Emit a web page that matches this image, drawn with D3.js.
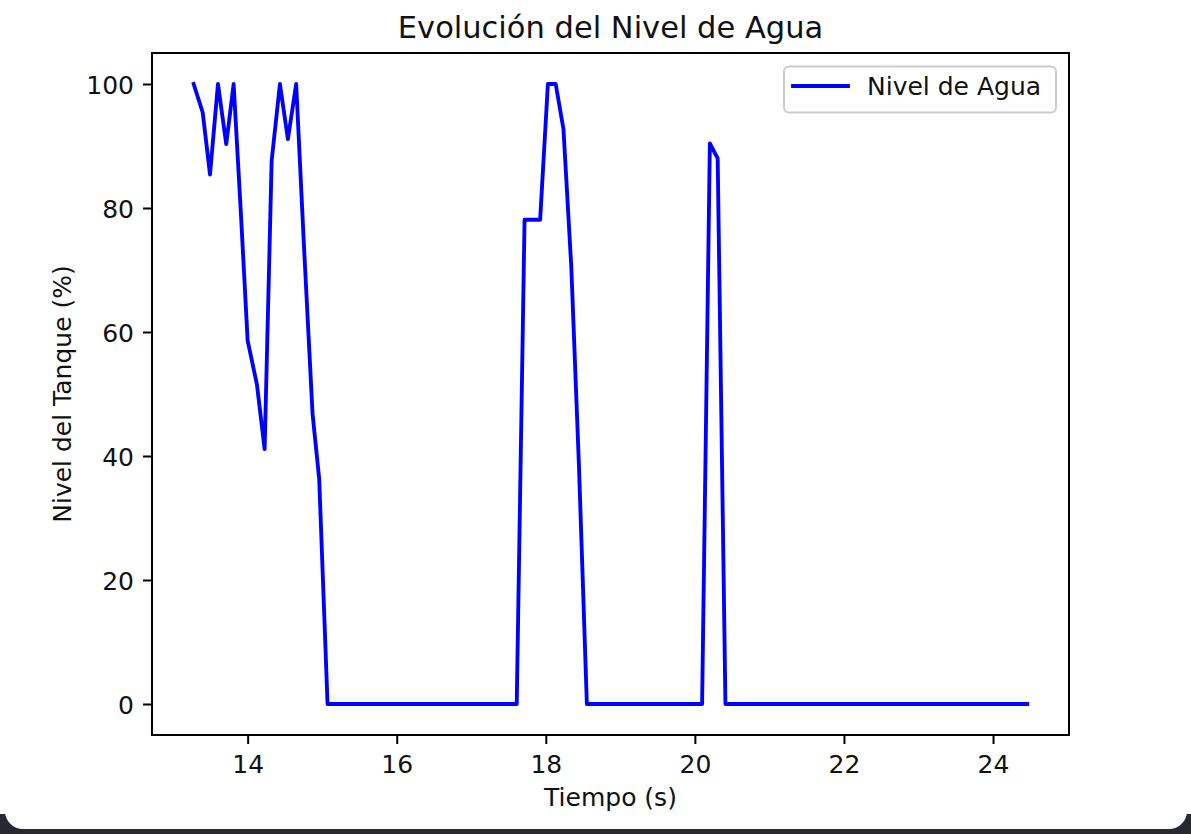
<!DOCTYPE html>
<html>
<head>
<meta charset="utf-8">
<script src="https://cdn.jsdelivr.net/npm/d3@7/dist/d3.min.js"></script>
<style>
  html, body { margin: 0; padding: 0; background: #ffffff; }
  svg { display: block; }
  text { font-family: "DejaVu Sans", sans-serif; fill: #111; }
</style>
</head>
<body>
<svg id="chart" width="1191" height="834"></svg>
<script>
// ---- data ----
const times = [
  13.276, 13.397, 13.495, 13.602, 13.713, 13.812, 13.910, 14.000, 14.125, 14.228,
  14.322, 14.433, 14.540, 14.651, 14.755, 14.871, 14.960, 15.072,
  17.610, 17.715, 17.819, 17.924, 18.028, 18.133, 18.237, 18.342, 18.446, 18.551,
  20.097, 20.201, 20.306, 20.410,
  24.460
];
const levels = [
  100, 95.4, 85.4, 100, 90.3, 100, 79, 58.6, 51.5, 41.1,
  87.6, 100, 91.1, 100, 74, 46.8, 36.3, 0,
  0, 78.1, 78.1, 78.1, 100, 100, 92.7, 70.5, 38, 0,
  0, 90.4, 88, 0,
  0
];
const xTicks = [14, 16, 18, 20, 22, 24];
const yTicks = [0, 20, 40, 60, 80, 100];
const titleText = "Evolución del Nivel de Agua";
const xLabel = "Tiempo (s)";
const yLabel = "Nivel del Tanque (%)";
const seriesName = "Nivel de Agua";

// ---- layout ----
const svg = d3.select("#chart");
const W = 1191, H = 834;
const axL = 152, axR = 1069, axT = 53, axB = 735;
const tickFont = 25, titleFont = 30.5;

// window frame (dark strip with rounded card corners at the bottom)
svg.append("rect").attr("x", 0).attr("y", 814).attr("width", W).attr("height", H - 814).attr("fill", "#262a30");
svg.append("rect").attr("x", 5).attr("y", -40).attr("width", 1182).attr("height", 869)
  .attr("rx", 18).attr("ry", 18).attr("fill", "#ffffff");

const data = times.map((t, i) => ({ t, v: levels[i] }));
const tExt = d3.extent(times), vExt = d3.extent(levels);
const tPad = (tExt[1] - tExt[0]) * 0.05, vPad = (vExt[1] - vExt[0]) * 0.05;

const x = d3.scaleLinear().domain([tExt[0] - tPad, tExt[1] + tPad]).range([axL, axR]);
const y = d3.scaleLinear().domain([vExt[0] - vPad, vExt[1] + vPad]).range([axB, axT]);

// clip
svg.append("defs").append("clipPath").attr("id", "clip")
  .append("rect").attr("x", axL).attr("y", axT).attr("width", axR - axL).attr("height", axB - axT);

// line
const line = d3.line().x(d => x(d.t)).y(d => y(d.v));
svg.append("path").datum(data)
  .attr("clip-path", "url(#clip)")
  .attr("d", line)
  .attr("fill", "none")
  .attr("stroke", "#0000ff")
  .attr("stroke-width", 3.85)
  .attr("stroke-linejoin", "round")
  .attr("stroke-linecap", "square");

// axes
const xAxis = d3.axisBottom(x).tickValues(xTicks).tickFormat(d3.format("d")).tickSizeInner(9).tickSizeOuter(0).tickPadding(9);
const yAxis = d3.axisLeft(y).tickValues(yTicks).tickFormat(d3.format("d")).tickSizeInner(9).tickSizeOuter(0).tickPadding(9);

const gx = svg.append("g").attr("transform", `translate(0,${axB})`).call(xAxis);
const gy = svg.append("g").attr("transform", `translate(${axL},0)`).call(yAxis);
[gx, gy].forEach(g => {
  g.select(".domain").remove();
  g.selectAll(".tick line").attr("stroke", "#000").attr("stroke-width", 2);
  g.selectAll(".tick text").attr("font-size", tickFont).attr("font-family", "DejaVu Sans").attr("fill", "#111");
});
gx.selectAll(".tick text").attr("dy", null).attr("y", 38);
gy.selectAll(".tick text").attr("dy", "0.36em");

// spines
svg.append("rect").attr("x", axL).attr("y", axT).attr("width", axR - axL).attr("height", axB - axT)
  .attr("fill", "none").attr("stroke", "#000").attr("stroke-width", 2);

// title and labels
svg.append("text").attr("x", (axL + axR) / 2).attr("y", 37.5)
  .attr("text-anchor", "middle").attr("font-size", titleFont).text(titleText);
svg.append("text").attr("x", (axL + axR) / 2).attr("y", 806)
  .attr("text-anchor", "middle").attr("font-size", tickFont).text(xLabel);
svg.append("text").attr("transform", `translate(71,${(axT + axB) / 2}) rotate(-90)`)
  .attr("text-anchor", "middle").attr("font-size", tickFont).text(yLabel);

// legend
const lg = svg.append("g");
lg.append("rect").attr("x", 784).attr("y", 66.5).attr("width", 272).attr("height", 46).attr("rx", 5)
  .attr("fill", "#ffffff").attr("fill-opacity", 0.8).attr("stroke", "#cccccc").attr("stroke-width", 2);
lg.append("line").attr("x1", 793).attr("x2", 848).attr("y1", 86).attr("y2", 86)
  .attr("stroke", "#0000ff").attr("stroke-width", 3.85).attr("stroke-linecap", "square");
lg.append("text").attr("x", 867).attr("y", 95).attr("font-size", tickFont).text(seriesName);
</script>
</body>
</html>
